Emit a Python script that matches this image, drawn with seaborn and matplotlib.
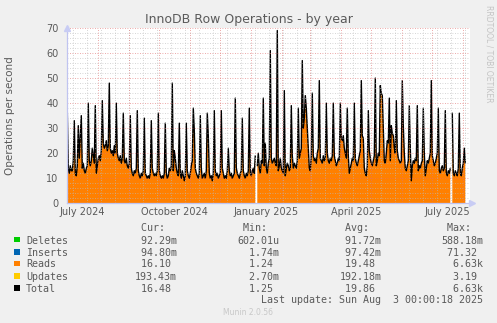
import numpy as np
import pandas as pd
import matplotlib
matplotlib.use("Agg")
import matplotlib.pyplot as plt
from matplotlib.patches import Rectangle
import seaborn as sns

# ---------------- data ----------------
start_date = "2024-07-01"
nan = np.nan
# daily Reads (ops/s), one row per week (Mon..Sun)
reads_weeks = [
    [37, 14, 12, 15, 13, 13, 17],
    [33, 12, 11, 15, 31, 18, 27],
    [35, 14, 16, 13, 12, 14, 15],
    [40, 17, 15, 17, 22, 19, 16],
    [39, 12, 15, 18, 19, 17, 21],
    [41, 24, 22, 23, 25, 21, 23],
    [48, 22, 20, 21, 19, 23, 20],
    [40, 20, 18, 17, 19, 16, 18],
    [36, 17, 16, 18, 15, 14, 16],
    [35, 14, 12, 11, 13, 12, 14],
    [37, 13, 11, 10, 12, 11, 13],
    [34, 12, 11, 10, 11, 10, 12],
    [33, 14, 12, 11, 12, 11, 13],
    [36, 13, 11, 10, 11, 10, 12],
    [32, 12, 10, 11, 14, 13, 15],
    [48, 13, 21, 18, 14, 12, 11],
    [32, 12, 10, 13, 11, 9, 11],
    [32, 13, 11, 10, 12, 15, 17],
    [38, 29, 14, 12, 11, 10, 12],
    [35, 14, 10, 11, 12, 10, 13],
    [36, 27, 12, 10, 11, 9, 12],
    [37, 13, 11, 12, 10, 11, 12],
    [37, 14, 12, 10, 11, 10, 13],
    [22, 13, 11, 12, 10, 11, 12],
    [42, 14, 12, 11, 10, 12, 13],
    [34, 13, 11, 10, 12, 11, 13],
    [38, 12, 11, 13, 14, 12, 19],
    [nan, 15, 20, 14, 12, 17, 16],
    [42, 15, 24, 14, 12, 16, 18],
    [61, 18, 16, 17, 18, 16, 15],
    [69, 13, 15, 18, 14, 13, 12],
    [45, 11, 14, 16, 15, 13, 14],
    [39, 19, 14, 16, 15, 14, 17],
    [38, 18, 20, 22, 57, 30, 34],
    [43, 38, 30, 22, 14, 13, 19],
    [44, 19, 17, 18, 16, 20, 22],
    [49, 18, 17, 16, 19, 17, 18],
    [40, 20, 17, 16, 18, 17, 19],
    [40, 19, 17, 15, 16, 18, 17],
    [40, 26, 25, 27, 22, 20, 18],
    [38, 19, 12, 14, 16, 18, 17],
    [40, 18, 16, 15, 17, 19, 21],
    [49, 27, 26, 14, 12, 11, 15],
    [37, 21, 18, 16, 15, 17, 19],
    [50, 15, 17, 20, 19, 47, 44],
    [43, 30, 17, 16, 20, 25, 24],
    [42, 17, 31, 28, 27, 22, 20],
    [41, 21, 18, 17, 16, 17, 49],
    [31, 20, 14, 13, 15, 17, 39],
    [22, 9, 15, 17, 16, 18, 17],
    [39, 13, 15, 14, 16, 17, 38],
    [20, 11, 14, 17, 16, 18, 20],
    [49, 19, 17, 15, 16, 18, 20],
    [38, 13, 12, 14, 15, 13, 14],
    [37, 12, 11, 13, 12, 14, nan],
    [36, 12, 11, 13, 12, 11, 14],
    [36, 12, 11, 14, 16, 22, 16],
]

series_names = ["Deletes", "Inserts", "Reads", "Updates", "Total"]
series_colors = ["#00CC00", "#0066B3", "#FF8000", "#FFCC00", "#000000"]
cur_vals = ["92.29m", "94.80m", "16.10", "193.43m", "16.48"]
min_vals = ["602.01u", "1.74m", "1.24", "2.70m", "1.25"]
avg_vals = ["91.72m", "97.42m", "19.48", "192.18m", "19.86"]
max_vals = ["588.18m", "71.32", "6.63k", "3.19", "6.63k"]
headers = ["Cur:", "Min:", "Avg:", "Max:"]
month_labels = ["July 2024", "October 2024", "January 2025", "April 2025", "July 2025"]
label_dates = ["2024-07-16", "2024-10-16", "2025-01-16", "2025-04-16", "2025-07-16"]
y_ticks = [0, 10, 20, 30, 40, 50, 60, 70]

title = "InnoDB Row Operations - by year"
ylabel = "Operations per second"
last_update = "Last update: Sun Aug  3 00:00:18 2025"
footer = "Munin 2.0.56"
side_text = "RRDTOOL / TOBI OETIKER"

# ---------------- build frame ----------------
reads = np.array([v for w in reads_weeks for v in w], dtype=float)
dates = pd.date_range(start_date, periods=len(reads), freq="D")
df = pd.DataFrame({"date": dates, "Reads": reads})
df["seg"] = np.cumsum(np.isnan(reads))
df_line = df.dropna()

# ---------------- figure ----------------
sns.set_theme(style="white")
plt.rcParams["font.family"] = ["DejaVu Sans"]

TXT = "#5A5A5A"
W, H = 497, 323
fig = plt.figure(figsize=(W / 100, H / 100), dpi=100, facecolor="#F0F0F0")
L, R, T, B = 67, 470, 28, 203.3
ax = fig.add_axes([L / W, 1 - B / H, (R - L) / W, (B - T) / H])
ax.set_facecolor("#FFFFFF")

x0 = pd.Timestamp(start_date) - pd.Timedelta(hours=7)
x1 = pd.Timestamp(start_date) + pd.Timedelta(days=402.7)
ax.set_xlim(x0, x1)
ax.set_ylim(0, 70)

ax.fill_between(dates, 0, reads, where=~np.isnan(reads), color="#FF8000",
                lw=0, zorder=2, interpolate=False)
sns.lineplot(data=df_line, x="date", y="Reads", units="seg", estimator=None,
             color="black", lw=1.0, ax=ax, legend=False, zorder=3)

# grid
for y in range(2, 70, 2):
    if y % 10:
        ax.axhline(y, color="#BBBBBB", lw=0.6, ls=(0, (1, 2)), zorder=4, alpha=0.8)
for y in range(10, 71, 10):
    ax.axhline(y, color="#E07070", lw=0.6, ls=(0, (1, 2)), zorder=4, alpha=0.8)
biweekly = pd.date_range("2024-07-07", x1, freq="14D")
for d in biweekly:
    ax.axvline(d, color="#BBBBBB", lw=0.6, ls=(0, (1, 2)), zorder=4, alpha=0.8)
month_starts = pd.date_range("2024-08-01", x1, freq="MS")
for d in month_starts:
    ax.axvline(d, color="#E07070", lw=0.6, ls=(0, (1, 2)), zorder=4, alpha=0.8)

for s in ["top", "right"]:
    ax.spines[s].set_visible(False)
for s in ["left", "bottom"]:
    ax.spines[s].set_color("#C0C4F0")
    ax.spines[s].set_linewidth(0.9)
    ax.spines[s].set_zorder(5)

ax.plot([0], [1], marker="^", color="#C8CCF4", ms=4, transform=ax.transAxes, clip_on=False, zorder=6)
ax.plot([1.004], [0], marker=">", color="#C8CCF4", ms=4, transform=ax.transAxes, clip_on=False, zorder=6)

ax.set_xticks(pd.to_datetime(label_dates))
ax.set_xticklabels(month_labels)
ax.set_xticks(list(pd.date_range("2024-07-01", x1, freq="MS")), minor=True)
ax.set_yticks(y_ticks)
ax.set_yticklabels([str(v) for v in y_ticks])
ax.tick_params(axis="x", which="major", length=0, pad=3, labelsize=7, labelcolor=TXT)
ax.tick_params(axis="x", which="minor", length=2.5, width=0.8, color="#E07070", direction="out")
ax.tick_params(axis="y", which="major", length=2, width=0.8, color="#E07070", pad=4,
               labelsize=7, labelcolor=TXT)
ax.set_xlabel("")
ax.set_ylabel("")
ax.grid(False)

def fx(px):
    return px / W

def fy(py):
    return 1 - py / H

fig.text(fx(248.5), fy(19.5), title, ha="center", va="center", fontsize=9, color=TXT)
fig.text(fx(10), fy(115.5), ylabel, ha="center", va="center", rotation=90, fontsize=7.5, color=TXT)
fig.text(fx(488.5), fy(53.5), side_text, ha="center", va="center", rotation=270, fontsize=5.5, color="#C4C4C4")

mono = "DejaVu Sans Mono"
fs = 7.2
col_x = [135, 237.3, 339.3, 441]
header_y = 227.3
row_y = [239.5, 251.7, 263.3, 275.7, 287.7]

def fmt(v):
    if v[-1].isalpha():
        return f"{v[:-1]:>6}{v[-1]}"
    return f"{v:>6} "

for cx, h in zip(col_x, headers):
    fig.text(fx(cx), fy(header_y), " " + h, ha="left", va="center_baseline",
             family=mono, fontsize=fs, color=TXT)

for i, name in enumerate(series_names):
    y = row_y[i]
    fig.patches.append(Rectangle((fx(14), fy(y + 2.9)), 5.6 / W, 5.6 / H,
                                 transform=fig.transFigure, facecolor=series_colors[i],
                                 edgecolor="none"))
    fig.text(fx(26), fy(y), name, ha="left", va="center_baseline", family=mono,
             fontsize=fs, color=TXT)
    for cx, vals in zip(col_x, [cur_vals, min_vals, avg_vals, max_vals]):
        fig.text(fx(cx), fy(y), fmt(vals[i]), ha="left", va="center_baseline",
                 family=mono, fontsize=fs, color=TXT)

fig.text(fx(260.7), fy(299.3), last_update, ha="left", va="center_baseline",
         family=mono, fontsize=fs, color=TXT)
fig.text(fx(248), fy(312.3), footer, ha="center", va="center", fontsize=5.5, color="#C8C8C8")

fig.savefig("out.png", dpi=100, facecolor=fig.get_facecolor())
